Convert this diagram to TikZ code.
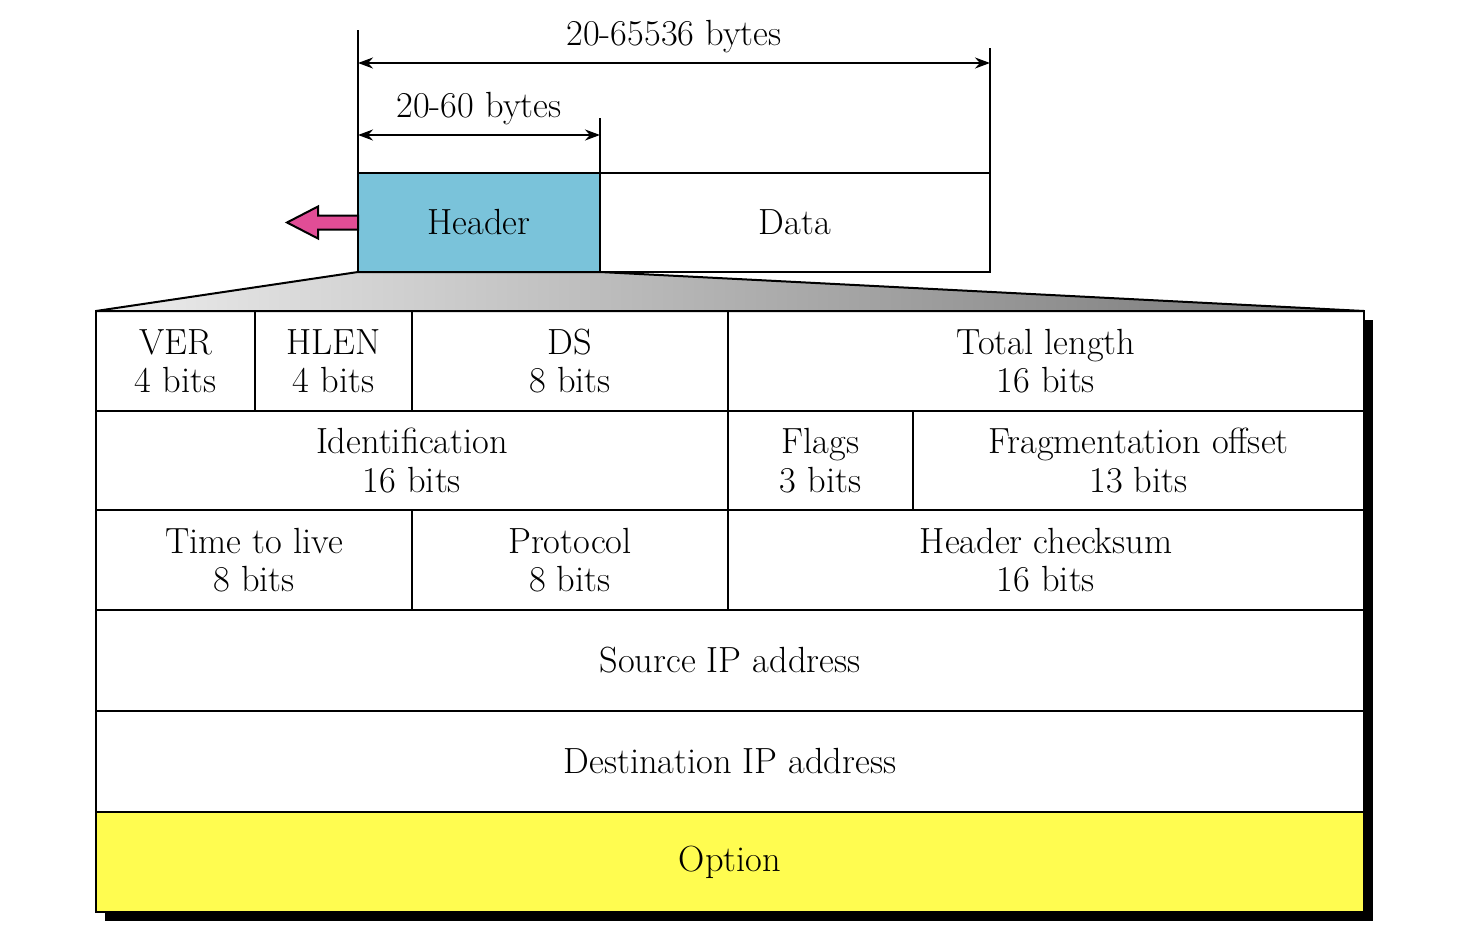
\documentclass[tikz,border=0pt]{standalone}
\usepackage{tikz}
\usetikzlibrary{arrows.meta,calc,shadows}
\definecolor{hdrblue}{RGB}{122,195,218}
\definecolor{arrowpink}{RGB}{225,77,150}
\definecolor{optyellow}{RGB}{255,252,80}
\tikzset{
  txt/.style={font=\fontsize{18.2}{19.2}\selectfont},
  field/.style={draw, line width=1pt, align=center, inner sep=0pt, outer sep=0pt, txt},
  dim/.style={line width=1pt, {Stealth[length=7.5pt,width=5.5pt]}-{Stealth[length=7.5pt,width=5.5pt]}}
}
\begin{document}
\begin{tikzpicture}[x=0.5pt, y=-0.5pt]
\useasboundingbox (0,0) rectangle (1484,942);
% packet
\node[field, fill=hdrblue, minimum width=121pt, minimum height=49.5pt] (P_0) at (479,222.5) {Header};
\node[field, minimum width=195pt, minimum height=49.5pt] (P_1) at (795,222.5) {Data};
\draw[line width=1pt] (P_0.north west) -- ++(0,-143);
\draw[line width=1pt] (P_0.north east) -- ++(0,-55);
\draw[line width=1pt] (P_1.north east) -- ++(0,-125);
\coordinate (L_0) at (358,63);
\coordinate (R_0) at (990,63);
\draw[dim] (L_0) -- (R_0) node[midway, above=1pt, txt] (W_0) {20-65536 bytes};
\coordinate (L_1) at (358,135);
\coordinate (R_1) at (600,135);
\draw[dim] (L_1) -- (R_1) node[midway, above=1pt, txt] (W_1) {20-60 bytes};
\draw[line width=1pt, fill=arrowpink, line join=miter]
  ($(P_0.west)+(0,-7)$) -- ++(-40,0) -- ++(0,-9) -- ++(-31,16)
  -- ++(31,16) -- ++(0,-9) -- ++(40,0) -- cycle;
% header fields
\node[draw, line width=1pt, fill=white, inner sep=0pt, outer sep=0pt,
  minimum width=634pt, minimum height=300.5pt,
  drop shadow={fill=black, opacity=1, shadow xshift=4.5pt, shadow yshift=-4.5pt}] (T) at (730,611.5) {};
\shade[left color=black!7, middle color=black!20, right color=black!55, draw, line width=1pt]
  (P_0.south west) -- (P_0.south east) -- (T.north east) -- (T.north west) -- cycle;
\node[field, minimum width=79.5pt, minimum height=50pt] (F_0_0) at (175.5,361) {VER\\4 bits};
\node[field, minimum width=78.5pt, minimum height=50pt] (F_0_1) at (333.5,361) {HLEN\\4 bits};
\node[field, minimum width=158pt, minimum height=50pt] (F_0_2) at (570,361) {DS\\8 bits};
\node[field, minimum width=318pt, minimum height=50pt] (F_0_3) at (1046,361) {Total length\\16 bits};
\node[field, minimum width=316pt, minimum height=49.5pt] (F_1_0) at (412,460.5) {Identification\\16 bits};
\node[field, minimum width=92.5pt, minimum height=49.5pt] (F_1_1) at (820.5,460.5) {Flags\\3 bits};
\node[field, minimum width=225.5pt, minimum height=49.5pt] (F_1_2) at (1138.5,460.5) {Fragmentation offset\\13 bits};
\node[field, minimum width=158pt, minimum height=50pt] (F_2_0) at (254,560) {Time to live\\8 bits};
\node[field, minimum width=158pt, minimum height=50pt] (F_2_1) at (570,560) {Protocol\\8 bits};
\node[field, minimum width=318pt, minimum height=50pt] (F_2_2) at (1046,560) {Header checksum\\16 bits};
\node[field, minimum width=634pt, minimum height=50.5pt] (F_3_0) at (730,660.5) {Source IP address};
\node[field, minimum width=634pt, minimum height=50.5pt] (F_4_0) at (730,761.5) {Destination IP address};
\node[field, fill=optyellow, minimum width=634pt, minimum height=50pt] (F_5_0) at (730,862) {Option};
\end{tikzpicture}
\end{document}
